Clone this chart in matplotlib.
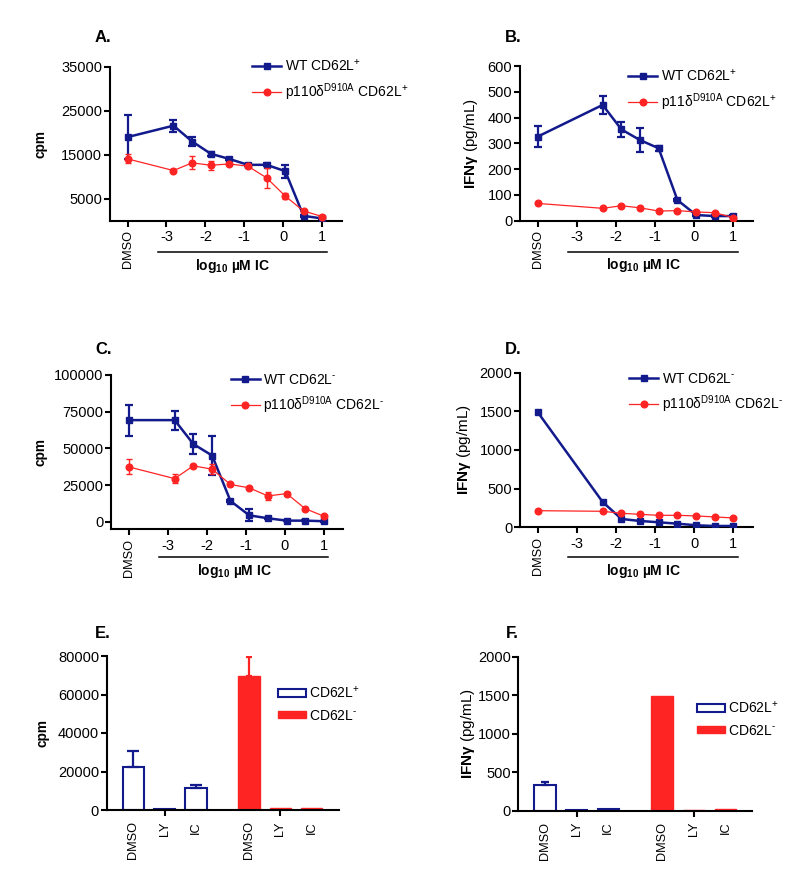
import matplotlib
matplotlib.use("Agg")
import matplotlib.pyplot as plt
from matplotlib.transforms import blended_transform_factory
from matplotlib.lines import Line2D
from matplotlib.patches import Patch

plt.rcParams['font.family'] = ['Liberation Sans', 'DejaVu Sans']
plt.rcParams['mathtext.fontset'] = 'custom'
plt.rcParams['mathtext.rm'] = 'Liberation Sans'
plt.rcParams['mathtext.it'] = 'Liberation Sans:italic'
plt.rcParams['mathtext.bf'] = 'Liberation Sans:bold'

# ---------------- data ----------------
dmso_x = -4.0
log_conc = [-2.82, -2.34, -1.86, -1.39, -0.91, -0.43, 0.05, 0.52, 1.0]
x_ticks = [-4, -3, -2, -1, 0, 1]
x_ticklabels = ['DMSO', '-3', '-2', '-1', '0', '1']

# Panel A (cpm, CD62L+), DMSO first then dilution series
A_wt = [19000, 21600, 18000, 15200, 14050, 12700, 12700, 11260, 1100, 500]
A_wt_err = [5000, 1400, 1000, 500, 300, 200, 300, 1500, 200, 100]
A_mut = [14050, 11400, 13150, 12600, 12900, 12400, 9750, 5600, 2200, 950]
A_mut_err = [1000, 300, 1500, 1000, 300, 300, 2300, 600, 300, 200]

# Panel B (IFNg, CD62L+), no -2.82 point
B_wt = [326, 449, 354, 313, 281, 80, 22, 18, 18]
B_wt_err = [40, 35, 30, 48, 10, 5, 3, 3, 3]
B_mut = [67, 48, 58, 50, 37.5, 39, 34, 31, 12]
B_mut_err = [4, 3, 3, 3, 3, 3, 3, 3, 3]

# Panel C (cpm, CD62L-)
C_wt = [69300, 69300, 53000, 45200, 14300, 4500, 2500, 900, 900, 500]
C_wt_err = [10500, 6400, 6700, 13000, 800, 4000, 500, 300, 300, 200]
C_mut = [37500, 29500, 38200, 35900, 25500, 23200, 17700, 19300, 9100, 3900]
C_mut_err = [5000, 3000, 800, 3500, 800, 800, 2500, 800, 800, 800]

# Panel D (IFNg, CD62L-), no -2.82 point
D_wt = [1491, 328, 108, 82, 65, 47, 26, 17, 17]
D_mut = [215, 207, 181, 168, 155, 155, 147, 134, 121]

# Panels E/F bars
bar_labels = ['DMSO', 'LY', 'IC']
E_pos = [22500, 300, 11400]
E_pos_err = [8000, 0, 1600]
E_neg = [69600, 1200, 900]
E_neg_err = [10000, 0, 0]
F_pos = [329, 13, 22]
F_pos_err = [40, 0, 0]
F_neg = [1493, 13, 22]
F_neg_err = [0, 0, 0]

NAVY = '#121a8c'
RED = '#ff2424'
TICK_FS = 10.5
ROT_FS = 9.2

W, H = 800, 881
fig = plt.figure(figsize=(8, 8.81), dpi=100)


def ax_px(l, r, t, b):
    return fig.add_axes([l / W, 1 - b / H, (r - l) / W, (b - t) / H])


def style(ax):
    for s in ['top', 'right']:
        ax.spines[s].set_visible(False)
    for s in ['left', 'bottom']:
        ax.spines[s].set_linewidth(1.5)
    ax.tick_params(width=1.5, length=4, labelsize=TICK_FS, pad=1.5)


def line_panel(ax, xs_wt, wt, wt_err, xs_mut, mut, mut_err, ylim, yticks,
               line_y, label_y):
    ax.errorbar(xs_wt, wt, yerr=wt_err, color=NAVY, lw=1.8, marker='s', ms=4.5,
                capsize=2.6, elinewidth=1.6, capthick=1.6, zorder=3)
    ax.errorbar(xs_mut, mut, yerr=mut_err, color=RED, lw=0.9, marker='o', ms=4.8,
                capsize=2.4, elinewidth=1.0, capthick=1.0, zorder=4)
    ax.set_xlim(-4.45, 1.5)
    ax.set_ylim(*ylim)
    ax.set_yticks(yticks)
    ax.set_yticklabels([str(v) for v in yticks])
    ax.set_xticks(x_ticks)
    ax.set_xticklabels(x_ticklabels)
    style(ax)
    ax.tick_params(axis='x', pad=3)
    lab0 = ax.get_xticklabels()[0]
    lab0.set_rotation(90)
    lab0.set_fontsize(ROT_FS)
    tr = blended_transform_factory(ax.transData, ax.transAxes)
    ax.plot([-3.22, 1.12], [line_y, line_y], color='black', lw=1.1,
            transform=tr, clip_on=False)
    ax.text(-1.3, label_y, r'$\mathbf{log_{10}\ µM\ IC}$', transform=tr,
            ha='center', va='top', fontsize=10)


def add_line_legend(ax, sign, mut_name, x_px, y_px):
    handles = [Line2D([], [], color=NAVY, lw=1.8, marker='s', ms=4.5),
               Line2D([], [], color=RED, lw=0.9, marker='o', ms=4.8)]
    labels = ['WT CD62L$^{' + sign + '}$',
              mut_name + '$^{\\mathrm{D910A}}$ CD62L$^{' + sign + '}$']
    ax.legend(handles, labels, loc='upper left',
              bbox_to_anchor=(x_px / W, 1 - y_px / H), bbox_transform=fig.transFigure,
              frameon=False, fontsize=10, handlelength=2.1, handletextpad=0.25,
              labelspacing=0.55, borderpad=0, borderaxespad=0, numpoints=1)


PLUS = '+'
MINUS = r'\text{-}'

# ---------------- A ----------------
axA = ax_px(110, 341.7, 66.7, 220.7)
line_panel(axA, [dmso_x] + log_conc, A_wt, A_wt_err, [dmso_x] + log_conc, A_mut, A_mut_err,
           (0, 35000), [5000, 15000, 25000, 35000], -0.205, -0.235)
axA.set_ylabel('cpm', fontweight='bold', fontsize=9.8)
axA.yaxis.set_label_coords(-0.268, 0.5)
add_line_legend(axA, PLUS, 'p110δ', 252, 58)

# ---------------- B ----------------
axB = ax_px(520, 753, 66, 220.7)
line_panel(axB, [dmso_x] + log_conc[1:], B_wt, B_wt_err, [dmso_x] + log_conc[1:], B_mut, B_mut_err,
           (0, 600), [0, 100, 200, 300, 400, 500, 600], -0.205, -0.225)
axB.set_ylabel(r'$\mathbf{IFNγ}$ (pg/mL)', fontsize=11)
axB.yaxis.set_label_coords(-0.172, 0.5)
add_line_legend(axB, PLUS, 'p11δ', 628, 68)

# ---------------- C ----------------
axC = ax_px(111, 343.3, 375, 529.3)
line_panel(axC, [dmso_x] + log_conc, C_wt, C_wt_err, [dmso_x] + log_conc, C_mut, C_mut_err,
           (-5000, 100000), [0, 25000, 50000, 75000, 100000], -0.18, -0.21)
axC.set_ylabel('cpm', fontweight='bold', fontsize=9.8)
axC.yaxis.set_label_coords(-0.275, 0.5)
add_line_legend(axC, MINUS, 'p110δ', 230.7, 373)

# ---------------- D ----------------
axD = ax_px(520, 753, 372.7, 527.3)
line_panel(axD, [dmso_x] + log_conc[1:], D_wt, None, [dmso_x] + log_conc[1:], D_mut, None,
           (0, 2000), [0, 500, 1000, 1500, 2000], -0.195, -0.225)
axD.set_ylabel(r'$\mathbf{IFNγ}$ (pg/mL)', fontsize=11)
axD.yaxis.set_label_coords(-0.20, 0.5)
add_line_legend(axD, MINUS, 'p110δ', 629, 372)


# ---------------- E / F ----------------
def bar_panel(ax, pos, pos_err, neg, neg_err, ylim, yticks, xlim, err_cap_pos, err_cap_neg):
    xp = [0, 1, 2]
    xn = [3.7, 4.7, 5.7]
    ax.bar(xp, pos, width=0.68, facecolor='white', edgecolor=NAVY, linewidth=1.5, zorder=2)
    ax.bar(xn, neg, width=0.68, facecolor=RED, edgecolor=RED, linewidth=1.0, zorder=2)
    for x, v, e in zip(xp, pos, pos_err):
        if e > 0:
            ax.errorbar([x], [v], yerr=[[0], [e]], color=NAVY, elinewidth=1.6,
                        capsize=err_cap_pos, capthick=1.6, zorder=3)
    for x, v, e in zip(xn, neg, neg_err):
        if e > 0:
            ax.errorbar([x], [v], yerr=[[0], [e]], color=RED, elinewidth=1.6,
                        capsize=err_cap_neg, capthick=1.6, zorder=3)
    ax.set_xlim(*xlim)
    ax.set_ylim(*ylim)
    ax.set_yticks(yticks)
    ax.set_yticklabels([str(v) for v in yticks])
    style(ax)
    ax.xaxis.remove_overlapping_locs = False
    ax.set_xticks(xp + xn)
    ax.set_xticklabels(bar_labels + bar_labels, rotation=90, fontsize=ROT_FS)
    ax.tick_params(axis='x', which='major', length=0, pad=8)
    ax.set_xticks([1, 4.7], minor=True)
    ax.tick_params(axis='x', which='minor', length=4, width=1.5)
    handles = [Patch(facecolor='white', edgecolor=NAVY, linewidth=1.5),
               Patch(facecolor=RED, edgecolor=RED)]
    return handles


axE = ax_px(106.7, 339.3, 656, 810)
hE = bar_panel(axE, E_pos, E_pos_err, E_neg, E_neg_err, (0, 80000),
               [0, 20000, 40000, 60000, 80000], (-0.85, 6.58), 4, 2.5)
axE.set_ylabel('cpm', fontweight='bold', fontsize=9.8)
axE.yaxis.set_label_coords(-0.244, 0.5)
axE.legend(hE, ['CD62L$^{+}$', 'CD62L$^{' + MINUS + '}$'], loc='upper left',
           bbox_to_anchor=(278 / W, 1 - 685 / H), bbox_transform=fig.transFigure,
           frameon=False, fontsize=10, handlelength=2.0, handleheight=0.45,
           handletextpad=0.25, labelspacing=0.55, borderpad=0, borderaxespad=0)

axF = ax_px(518.3, 751.7, 656.7, 810.7)
hF = bar_panel(axF, F_pos, F_pos_err, F_neg, F_neg_err, (0, 2000),
               [0, 500, 1000, 1500, 2000], (-0.84, 6.52), 3, 3)
axF.set_ylabel(r'$\mathbf{IFNγ}$ (pg/mL)', fontsize=11)
axF.yaxis.set_label_coords(-0.177, 0.5)
axF.legend(hF, ['CD62L$^{+}$', 'CD62L$^{' + MINUS + '}$'], loc='upper left',
           bbox_to_anchor=(697 / W, 1 - 700 / H), bbox_transform=fig.transFigure,
           frameon=False, fontsize=10, handlelength=2.0, handleheight=0.45,
           handletextpad=0.25, labelspacing=0.55, borderpad=0, borderaxespad=0)

# panel letters
for lab, xp, yp in [('A.', 95, 38), ('B.', 505, 37), ('C.', 95, 350),
                    ('D.', 505, 349), ('E.', 95, 633), ('F.', 506, 633)]:
    fig.text(xp / W, 1 - yp / H, lab, fontsize=12, fontweight='bold', ha='left', va='center')

fig.savefig('out.png', dpi=100)
